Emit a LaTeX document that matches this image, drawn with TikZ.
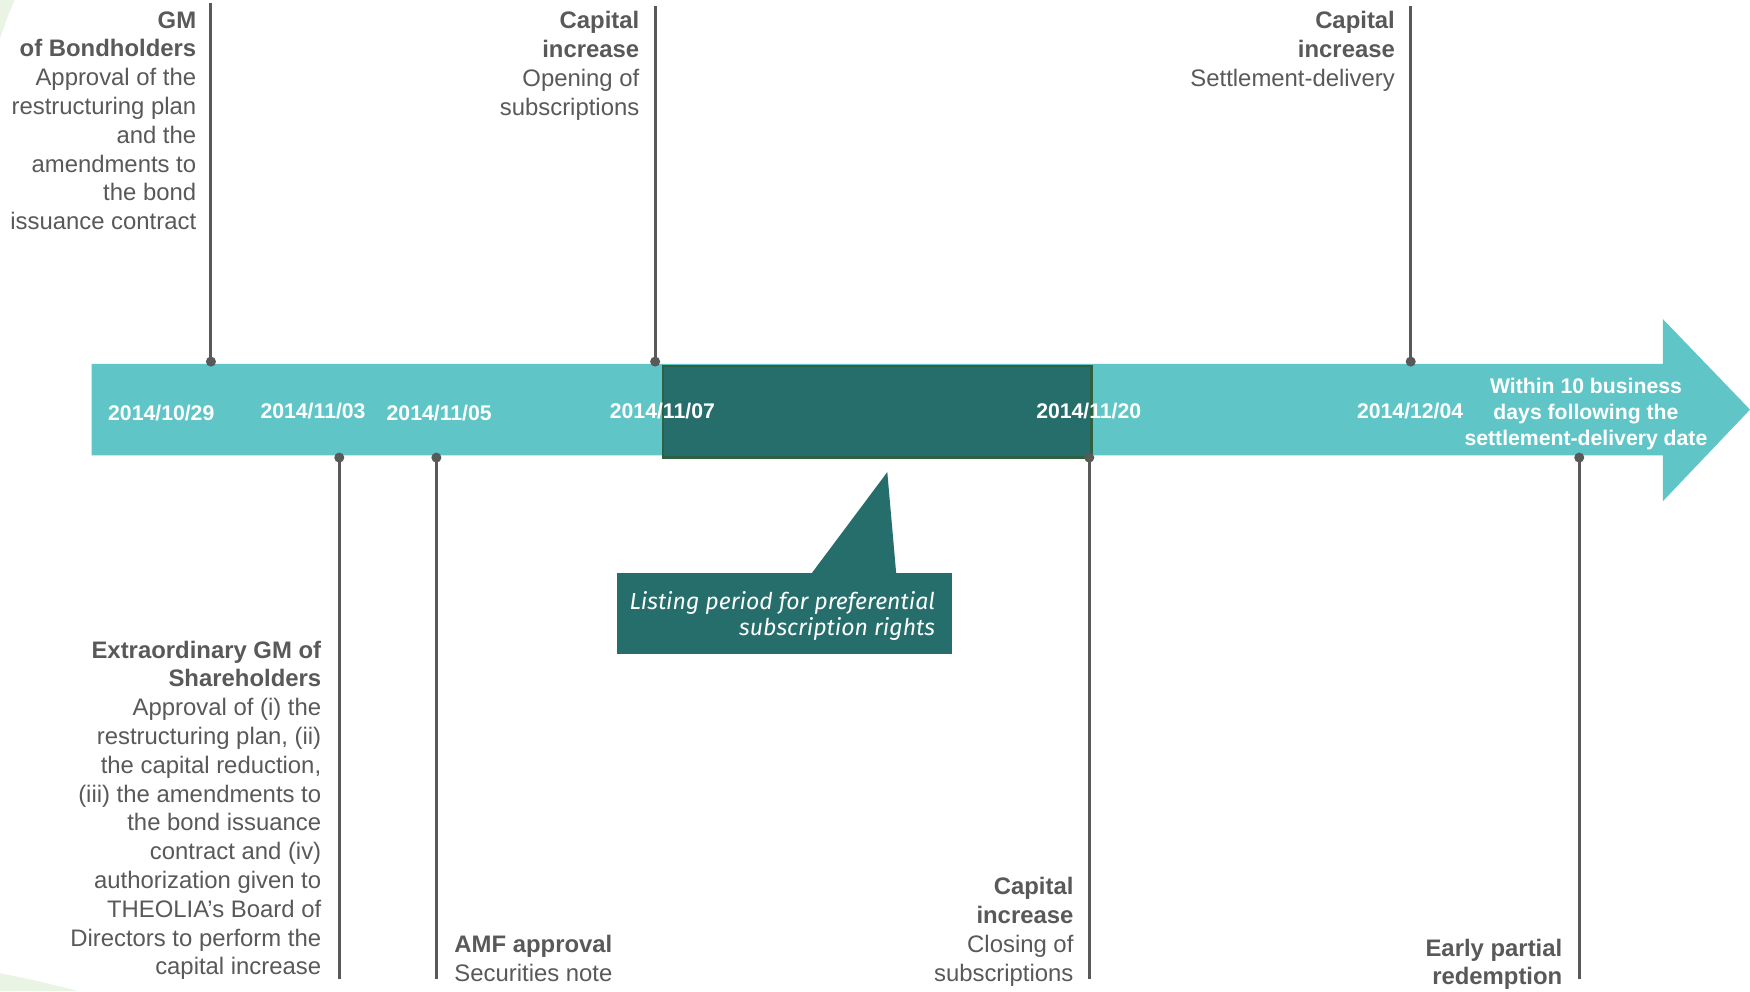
\documentclass[tikz,border=0pt]{standalone}
\usepackage{fontspec}
\setmainfont{Liberation Sans}
\newfontfamily\calloutfont{Fira Sans}
\definecolor{barc}{HTML}{60C5C7}
\definecolor{darkc}{HTML}{266E6C}
\definecolor{darkedge}{HTML}{2E6142}
\definecolor{txt}{HTML}{595959}
\definecolor{swoosh}{HTML}{EAF4E4}
\begin{document}
\begin{tikzpicture}[x=1pt,y=-1pt,
  lbl/.style={text=txt, inner sep=0pt, font=\fontsize{21.4}{25.8}\selectfont},
  lblr/.style={lbl, align=right, anchor=north east},
  lbll/.style={lbl, align=left, anchor=north west},
  datelbl/.style={text=white, inner sep=0pt, font=\bfseries\fontsize{19}{23.5}\selectfont},
  pin/.style={draw=txt, line width=2.6pt},
  dot/.style={circle, fill=txt, inner sep=0pt, minimum size=9pt},
]
\useasboundingbox (0,0) rectangle (1568,888);
\fill[white] (0,0) rectangle (1568,888);
% faint decorations
\fill[swoosh] (0,0) -- (13,0) .. controls (8,12) .. (0,34) -- cycle;
\fill[swoosh] (0,872) .. controls (30,878) .. (70,888) -- (0,888) -- cycle;

% timeline arrow
\fill[barc] (82,326) -- (1490,326) -- (1490,286) -- (1568,367) -- (1490,449) -- (1490,408) -- (82,408) -- cycle;
\node[fill=darkc, draw=darkedge, line width=2pt, minimum width=384pt, minimum height=82pt, anchor=north west, inner sep=0pt] (period) at (593,327) {};

% callout
\fill[darkc] (727,514) -- (795,423) -- (803,514) -- cycle;
\node[fill=darkc, minimum width=300pt, minimum height=73pt, anchor=north west, inner sep=0pt] (callout) at (553,513) {};
\node[text=white, inner sep=0pt, align=right, anchor=east, font=\calloutfont\itshape\fontsize{20.7}{24}\selectfont] (callouttxt) at (838,552) {Listing period for preferential\\subscription rights};

% dates
\node[datelbl] (d1) at (144.5,370) {2014/10/29};
\node[datelbl] (d2) at (280.5,368) {2014/11/03};
\node[datelbl] (d3) at (393.5,370) {2014/11/05};
\node[datelbl] (d4) at (593.5,368) {2014/11/07};
\node[datelbl] (d5) at (975.5,368) {2014/11/20};
\node[datelbl] (d6) at (1263.5,368) {2014/12/04};
\node[datelbl, align=center] (d7) at (1421,371) {Within 10 business\\days following the\\settlement-delivery date};

% pins
\coordinate (t1) at (189,3);   \node[dot] (p1) at (189,324) {};
\coordinate (t2) at (587,5);   \node[dot] (p2) at (587,324) {};
\coordinate (t3) at (1264,5);  \node[dot] (p3) at (1264,324) {};
\coordinate (b1) at (304,877); \node[dot] (q1) at (304,410) {};
\coordinate (b2) at (391,877); \node[dot] (q2) at (391,410) {};
\coordinate (b3) at (976,877); \node[dot] (q3) at (976,410) {};
\coordinate (b4) at (1415,877);\node[dot] (q4) at (1415,410) {};
\draw[pin] (p1.center) -- (t1);
\draw[pin] (p2.center) -- (t2);
\draw[pin] (p3.center) -- (t3);
\draw[pin] (q1.center) -- (b1);
\draw[pin] (q2.center) -- (b2);
\draw[pin] (q3.center) -- (b3);
\draw[pin] (q4.center) -- (b4);

% labels
\node[lblr] (gm) at (176,10) {\textbf{GM}\\\textbf{of Bondholders}\\Approval of the\\restructuring plan\\and the\\amendments to\\the bond\\issuance contract};
\node[lblr] (open) at (573,10) {\textbf{Capital}\\\textbf{increase}\\Opening of\\subscriptions};
\node[lblr] (settle) at (1250,10) {\textbf{Capital}\\\textbf{increase}\\Settlement-delivery};
\node[lblr] (egm) at (288,574) {\textbf{Extraordinary GM of}\\\textbf{Shareholders}\\Approval of (i) the\\restructuring plan, (ii)\\the capital reduction,\\(iii) the amendments to\\the bond issuance\\contract and (iv)\\authorization given to\\THEOLIA’s Board of\\Directors to perform the\\capital increase};
\node[lbll] (amf) at (407,838) {\textbf{AMF approval}\\Securities note};
\node[lblr] (close) at (962,786) {\textbf{Capital}\\\textbf{increase}\\Closing of\\subscriptions};
\node[lblr] (early) at (1400,841) {\textbf{Early partial}\\\textbf{redemption}};
\end{tikzpicture}
\end{document}
